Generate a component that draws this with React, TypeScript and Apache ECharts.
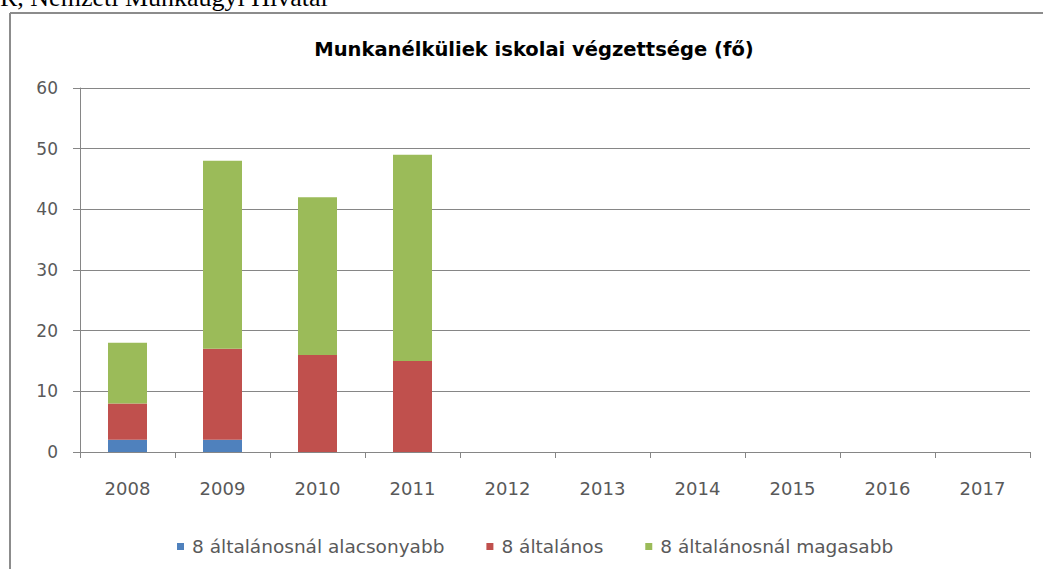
import React, { useEffect, useRef } from "react";
import * as echarts from "echarts";

const categories = ["2008", "2009", "2010", "2011", "2012", "2013", "2014", "2015", "2016", "2017"];
const seriesNames = ["8 általánosnál alacsonyabb", "8 általános", "8 általánosnál magasabb"];
const belowEight = [2, 2, 0, 0, null, null, null, null, null, null];
const eightGrade = [6, 15, 16, 15, null, null, null, null, null, null];
const aboveEight = [10, 31, 26, 34, null, null, null, null, null, null];
const yTicks = { min: 0, max: 60, interval: 10 };
const titleText = "Munkanélküliek iskolai végzettsége (fő)";
const headerText = "R, Nemzeti Munkaügyi Hivatal";

const colors = ["#4F81BD", "#C0504D", "#9BBB59"];
const FONT = "DejaVu Sans";

export default function App() {
  const ref = useRef<HTMLDivElement>(null);
  useEffect(() => {
    if (!ref.current) return;
    const chart = echarts.init(ref.current, null, { renderer: "svg" });
    const data = [belowEight, eightGrade, aboveEight];
    chart.setOption({
      animation: false,
      backgroundColor: "#ffffff",
      graphic: [
        {
          type: "text",
          left: 0,
          top: -16,
          style: { text: headerText, font: "26px 'Liberation Serif'", fill: "#000" },
        },
        {
          type: "line",
          shape: { x1: 10, y1: 13, x2: 1043, y2: 13 },
          style: { stroke: "#8c8c8c", lineWidth: 2 },
        },
        {
          type: "line",
          shape: { x1: 10, y1: 13, x2: 10, y2: 569 },
          style: { stroke: "#8c8c8c", lineWidth: 2 },
        },
      ],
      title: {
        text: titleText,
        left: 529,
        top: 34,
        textAlign: "center",
        textStyle: { fontFamily: FONT, fontSize: 19.5, fontWeight: "bold", color: "#000" },
      },
      legend: {
        left: 172,
        top: 532,
        itemWidth: 7,
        itemHeight: 7,
        itemGap: 42,
        icon: "rect",
        textStyle: { fontFamily: FONT, fontSize: 18.5, color: "#595959", padding: [0, 0, 0, 3] },
        data: seriesNames,
      },
      grid: { left: 80, right: 13, top: 88, bottom: 117 },
      xAxis: {
        type: "category",
        data: categories,
        axisLine: { lineStyle: { color: "#868686" } },
        axisTick: { show: true, length: 6, lineStyle: { color: "#868686" } },
        axisLabel: { fontFamily: FONT, fontSize: 18, color: "#595959", margin: 27 },
      },
      yAxis: {
        type: "value",
        min: yTicks.min,
        max: yTicks.max,
        interval: yTicks.interval,
        axisLine: { show: true, lineStyle: { color: "#868686" } },
        axisTick: { show: true, length: 7, lineStyle: { color: "#868686" } },
        axisLabel: { fontFamily: FONT, fontSize: 17, color: "#595959", margin: 22 },
        splitLine: { lineStyle: { color: "#868686" } },
      },
      series: seriesNames.map((name, i) => ({
        name,
        type: "bar",
        stack: "total",
        barWidth: 39,
        data: data[i],
        itemStyle: { color: colors[i] },
      })),
    });
    return () => chart.dispose();
  }, []);
  return <div ref={ref} style={{ position: "fixed", left: 0, top: 0, width: 1043, height: 569 }} />;
}
